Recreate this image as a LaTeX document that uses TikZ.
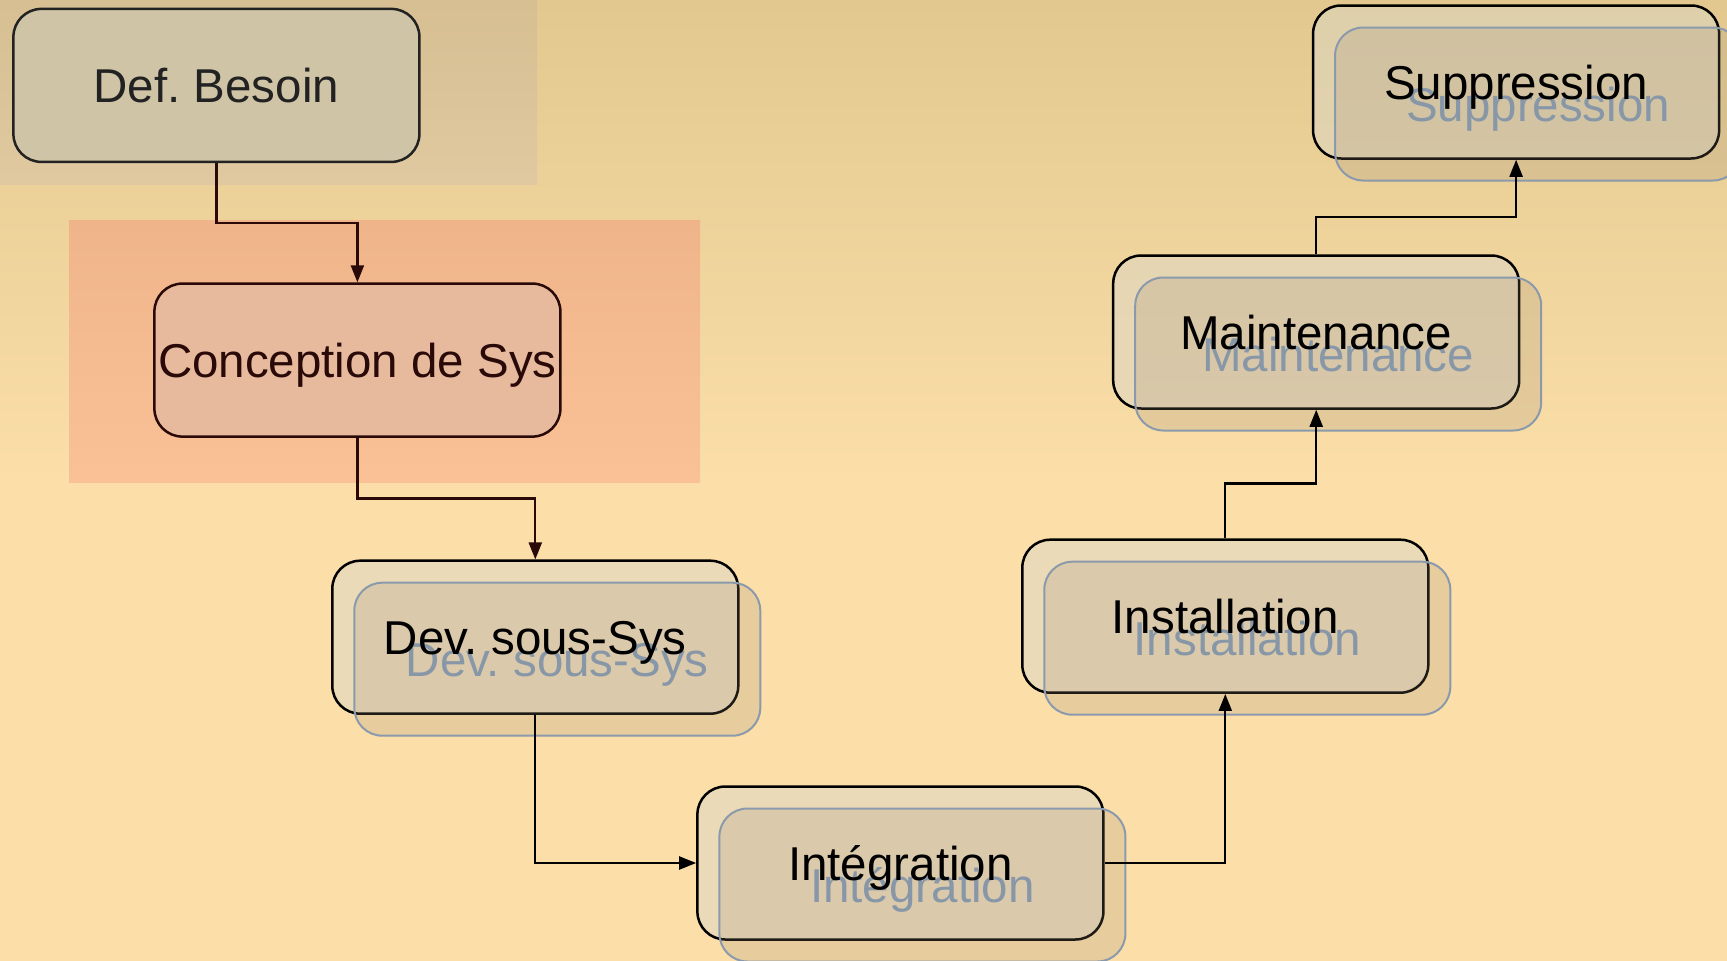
\documentclass[tikz,border=0pt]{standalone}
\usepackage{fontspec}
\setmainfont{Liberation Sans}
\usetikzlibrary{arrows.meta,calc}
\frenchspacing

\definecolor{bgtop}{RGB}{226,200,143}
\definecolor{bgbot}{RGB}{251,222,168}
\definecolor{tantop}{RGB}{215,191,147}
\definecolor{tanbot}{RGB}{224,200,160}
\definecolor{salmontop}{RGB}{239,180,138}
\definecolor{salmonbot}{RGB}{250,193,151}
\definecolor{conceptfill}{RGB}{231,186,158}
\definecolor{conceptline}{RGB}{42,10,8}
\definecolor{deffill}{RGB}{207,197,166}
\definecolor{defline}{RGB}{34,34,34}
\definecolor{boxfill}{RGB}{220,215,200}
\definecolor{ghostfill}{RGB}{151,136,118}
\definecolor{ghostline}{RGB}{138,154,172}
\definecolor{ghosttext}{RGB}{135,151,168}

\tikzset{
  stagebox/.style={rectangle, rounded corners=28pt, minimum width=406pt,
    minimum height=153pt, inner sep=0pt, line width=2.5pt, draw=black,
    fill=boxfill, fill opacity=0.5, text opacity=1,
    font=\fontsize{47.5}{57}\selectfont, text height=34pt, text depth=0pt},
  ghostbox/.style={stagebox, draw=ghostline, line width=2pt, fill=ghostfill,
    fill opacity=0.2, draw opacity=1, text=ghosttext},
  stagetext/.style={inner sep=0pt, font=\fontsize{47.5}{57}\selectfont,
    text height=34pt, text depth=0pt},
  link/.style={line width=2.2pt, -{Triangle[length=17pt,width=13pt]}},
}

\begin{document}
\begin{tikzpicture}[x=1pt,y=-1pt]
\useasboundingbox (0,0) rectangle (1727,961);

% background
\shade[top color=bgtop, bottom color=bgbot] (0,0) rectangle (1727,480);
\fill[bgbot] (0,480) rectangle (1727,961);

% highlighted zones
\shade[top color=tantop, bottom color=tanbot] (0,0) rectangle (537,184);
\shade[top color=salmontop, bottom color=salmonbot] (69,220) rectangle (700,482);

% stages without shadow
\node[stagebox, fill=deffill, fill opacity=1, draw=defline, text=defline]
  (d1) at (216.4,85.4) {Def. Besoin};
\node[stagebox, fill=conceptfill, fill opacity=1, draw=conceptline, text=conceptline]
  (d2) at (357.4,360.1) {Conception de Sys};

% stages with an offset ghost copy
\node[stagebox] (d3) at (535.3,637.2) {};
\node[stagebox] (d4) at (900.4,863) {};
\node[stagebox] (d5) at (1225.3,616.2) {};
\node[stagebox] (d6) at (1316.2,332) {};
\node[stagebox] (d7) at (1516.1,82) {};

\node[ghostbox] (g3) at ($(d3)+(22,22)$) {Dev. sous-Sys};
\node[ghostbox] (g4) at ($(d4)+(22,22)$) {Intégration};
\node[ghostbox] (g5) at ($(d5)+(22,22)$) {Installation};
\node[ghostbox] (g6) at ($(d6)+(22,22)$) {Maintenance};
\node[ghostbox] (g7) at ($(d7)+(22,22)$) {Suppression};

\node[stagetext] (t3) at (d3) {Dev. sous-Sys};
\node[stagetext] (t4) at (d4) {Intégration};
\node[stagetext] (t5) at (d5) {Installation};
\node[stagetext] (t6) at (d6) {Maintenance};
\node[stagetext] (t7) at (d7) {Suppression};

% connectors
\draw[link, conceptline] (d1.south) -- ++(0,59.5) -| (d2.north);
\draw[link, conceptline] (d2.south) -- ++(0,60.6) -| (d3.north);
\draw[link] (d3.south) |- (d4.west);
\draw[link] (d4.east) -| (d5.south);
\draw[link] (d5.north) -- ++(0,-55) -| (d6.south);
\draw[link] (d6.north) -- ++(0,-37.5) -| (d7.south);
\end{tikzpicture}
\end{document}
